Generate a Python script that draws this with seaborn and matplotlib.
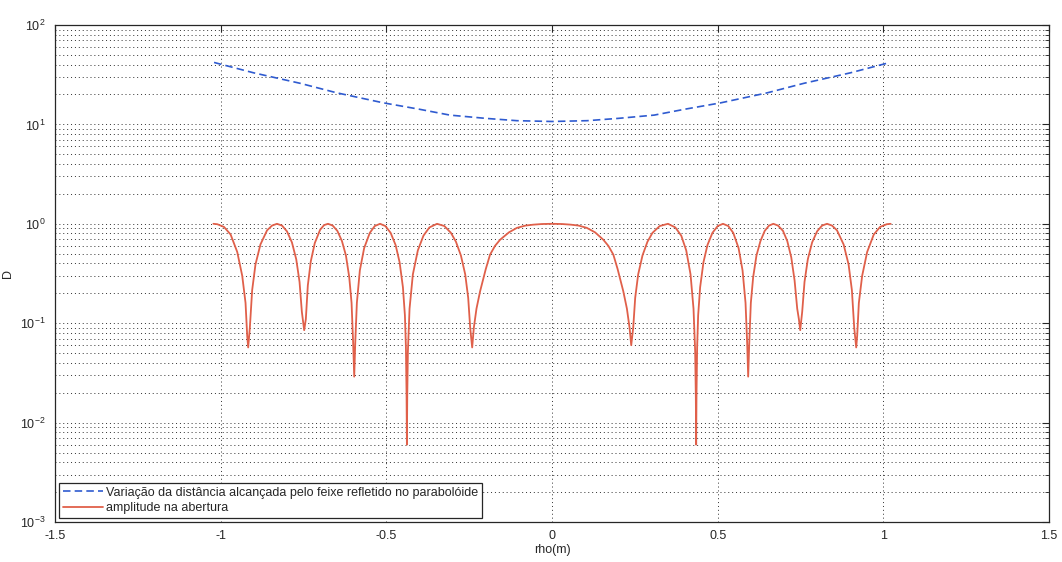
import matplotlib
matplotlib.use("Agg")
import matplotlib.pyplot as plt
import matplotlib.ticker as mticker
import seaborn as sns

# blue dashed curve: distance reached by the reflected beam
rho_dist = [-1.02, -0.9, -0.76, -0.65, -0.51, -0.4, -0.308, -0.2, -0.106, 0.0,
            0.106, 0.2, 0.308, 0.4, 0.51, 0.65, 0.76, 0.9, 1.02]
dist = [42.0, 33.0, 25.9, 20.8, 16.5, 14.2, 12.4, 11.5, 10.9, 10.7,
        10.9, 11.5, 12.4, 14.2, 16.5, 20.8, 25.9, 33.0, 42.0]

# red curve: amplitude at the aperture
rho_amp = [
    -1.022, -1.01, -0.99, -0.97, -0.95, -0.935, -0.925, -0.92, -0.917,
    -0.912, -0.905, -0.895, -0.88, -0.86, -0.845, -0.83,
    -0.815, -0.80, -0.785, -0.772, -0.762, -0.755, -0.748,
    -0.743, -0.737, -0.728, -0.716, -0.70, -0.688, -0.676,
    -0.662, -0.648, -0.634, -0.622, -0.612, -0.605, -0.600, -0.597,
    -0.594, -0.589, -0.58, -0.567, -0.55, -0.535, -0.519,
    -0.503, -0.487, -0.472, -0.46, -0.45, -0.444, -0.441, -0.439, -0.438,
    -0.437, -0.435, -0.43, -0.42, -0.405, -0.388, -0.37, -0.347,
    -0.325, -0.305, -0.29, -0.275, -0.262, -0.253, -0.247, -0.241,
    -0.236, -0.228, -0.217, -0.2, -0.187, -0.172, -0.157, -0.13, -0.106,
    -0.08, -0.057, -0.03, 0.0,
    0.03, 0.057, 0.08, 0.105, 0.13, 0.155, 0.17, 0.185, 0.198, 0.215,
    0.226, 0.234, 0.239,
    0.245, 0.251, 0.26, 0.273, 0.288, 0.303, 0.325, 0.35,
    0.372, 0.39, 0.405, 0.418, 0.427, 0.432, 0.434, 0.435,
    0.436, 0.438, 0.441, 0.447, 0.457, 0.469, 0.484, 0.5, 0.516,
    0.532, 0.547, 0.563, 0.575, 0.584, 0.589, 0.592,
    0.595, 0.6, 0.607, 0.617, 0.629, 0.642, 0.655, 0.668,
    0.682, 0.697, 0.71, 0.722, 0.732, 0.74, 0.745, 0.749,
    0.755, 0.762, 0.772, 0.785, 0.80, 0.815, 0.83,
    0.845, 0.86, 0.88, 0.895, 0.905, 0.912, 0.918,
    0.921, 0.926, 0.936, 0.951, 0.971, 0.99, 1.01, 1.022,
]
amp = [
    1.0, 0.99, 0.93, 0.78, 0.52, 0.30, 0.16, 0.075, 0.057,
    0.09, 0.215, 0.39, 0.62, 0.86, 0.96, 1.0,
    0.96, 0.84, 0.65, 0.44, 0.26, 0.13, 0.085,
    0.11, 0.24, 0.42, 0.64, 0.87, 0.97, 1.0,
    0.96, 0.85, 0.67, 0.48, 0.29, 0.16, 0.06, 0.029,
    0.062, 0.16, 0.34, 0.57, 0.81, 0.95, 1.0,
    0.95, 0.81, 0.61, 0.41, 0.23, 0.12, 0.058, 0.019, 0.006,
    0.018, 0.052, 0.14, 0.31, 0.54, 0.76, 0.92, 1.0,
    0.95, 0.81, 0.66, 0.48, 0.31, 0.18, 0.09, 0.057,
    0.09, 0.14, 0.21, 0.35, 0.49, 0.60, 0.69, 0.82, 0.91,
    0.96, 0.98, 0.995, 1.0,
    0.995, 0.98, 0.96, 0.91, 0.82, 0.69, 0.60, 0.49, 0.35, 0.21,
    0.14, 0.09, 0.06,
    0.09, 0.18, 0.31, 0.48, 0.66, 0.81, 0.95, 1.0,
    0.92, 0.76, 0.54, 0.31, 0.14, 0.052, 0.018, 0.006,
    0.019, 0.058, 0.12, 0.23, 0.41, 0.61, 0.81, 0.95, 1.0,
    0.95, 0.81, 0.57, 0.34, 0.16, 0.062, 0.029,
    0.06, 0.16, 0.29, 0.48, 0.67, 0.85, 0.96, 1.0,
    0.96, 0.85, 0.67, 0.46, 0.27, 0.14, 0.11, 0.085,
    0.13, 0.26, 0.44, 0.65, 0.84, 0.96, 1.0,
    0.96, 0.86, 0.62, 0.39, 0.215, 0.09, 0.057,
    0.075, 0.16, 0.30, 0.52, 0.78, 0.93, 0.99, 1.0,
]

x_ticks = [-1.5, -1, -0.5, 0, 0.5, 1, 1.5]
legend_labels = ["Variação da distância alcançada pelo feixe refletido no parabolóide",
                 "amplitude na abertura"]

sns.set_theme(style="white")
plt.rcParams["font.family"] = ["Liberation Sans", "DejaVu Sans"]
plt.rcParams["mathtext.fontset"] = "custom"
plt.rcParams["mathtext.rm"] = "Liberation Sans"
plt.rcParams["axes.unicode_minus"] = False

fig = plt.figure(figsize=(10.62, 5.62), dpi=100)
ax = fig.add_axes([0.0518, 0.0712, 0.9360, 0.8843])

sns.lineplot(x=rho_dist, y=dist, ax=ax, sort=False, estimator=None,
             color="#2f5bd0", linewidth=1.2, linestyle="--",
             label=legend_labels[0])
sns.lineplot(x=rho_amp, y=amp, ax=ax, sort=False, estimator=None,
             color="#e0604a", linewidth=1.3, label=legend_labels[1])
ax.lines[0].set_dashes([4.5, 2.5])

ax.set_yscale("log")
ax.set_xlim(-1.5, 1.5)
ax.set_ylim(1e-3, 1e2)
ax.set_xticks(x_ticks)
ax.xaxis.set_major_formatter(mticker.FuncFormatter(lambda v, p: "%g" % v))
ax.yaxis.set_major_locator(mticker.LogLocator(base=10, numticks=10))
ax.yaxis.set_minor_locator(mticker.LogLocator(base=10, subs=range(2, 10), numticks=20))
ax.yaxis.set_minor_formatter(mticker.NullFormatter())

grid_kw = dict(color="#303030", linestyle=(0, (1, 3)), linewidth=0.7)
ax.xaxis.grid(True, which="major", **grid_kw)
ax.yaxis.grid(True, which="major", **grid_kw)
ax.yaxis.grid(True, which="minor", **grid_kw)

ax.tick_params(which="both", direction="in", top=True, right=True,
               labelsize=9, labelcolor="#262626", color="#262626")
ax.tick_params(which="major", length=5, width=0.8)
ax.tick_params(which="minor", length=3, width=0.6)
ax.tick_params(axis="y", which="major", pad=7)
ax.tick_params(axis="x", which="major", pad=6)
for s in ax.spines.values():
    s.set_color("#262626")
    s.set_linewidth(0.9)

ax.set_xlabel("rho(m)", fontsize=9, color="#262626", labelpad=1)
ax.set_ylabel("D", fontsize=9, color="#262626")
ax.yaxis.set_label_coords(-0.041, 0.5)

leg = ax.legend(loc="lower left", fontsize=9, frameon=True, fancybox=False,
                edgecolor="#262626", framealpha=1, borderaxespad=0.3,
                handlelength=3.2, handletextpad=0.3, labelspacing=0.3,
                borderpad=0.3)
leg.get_frame().set_linewidth(0.9)

fig.savefig("out.png", dpi=100, facecolor="white")
